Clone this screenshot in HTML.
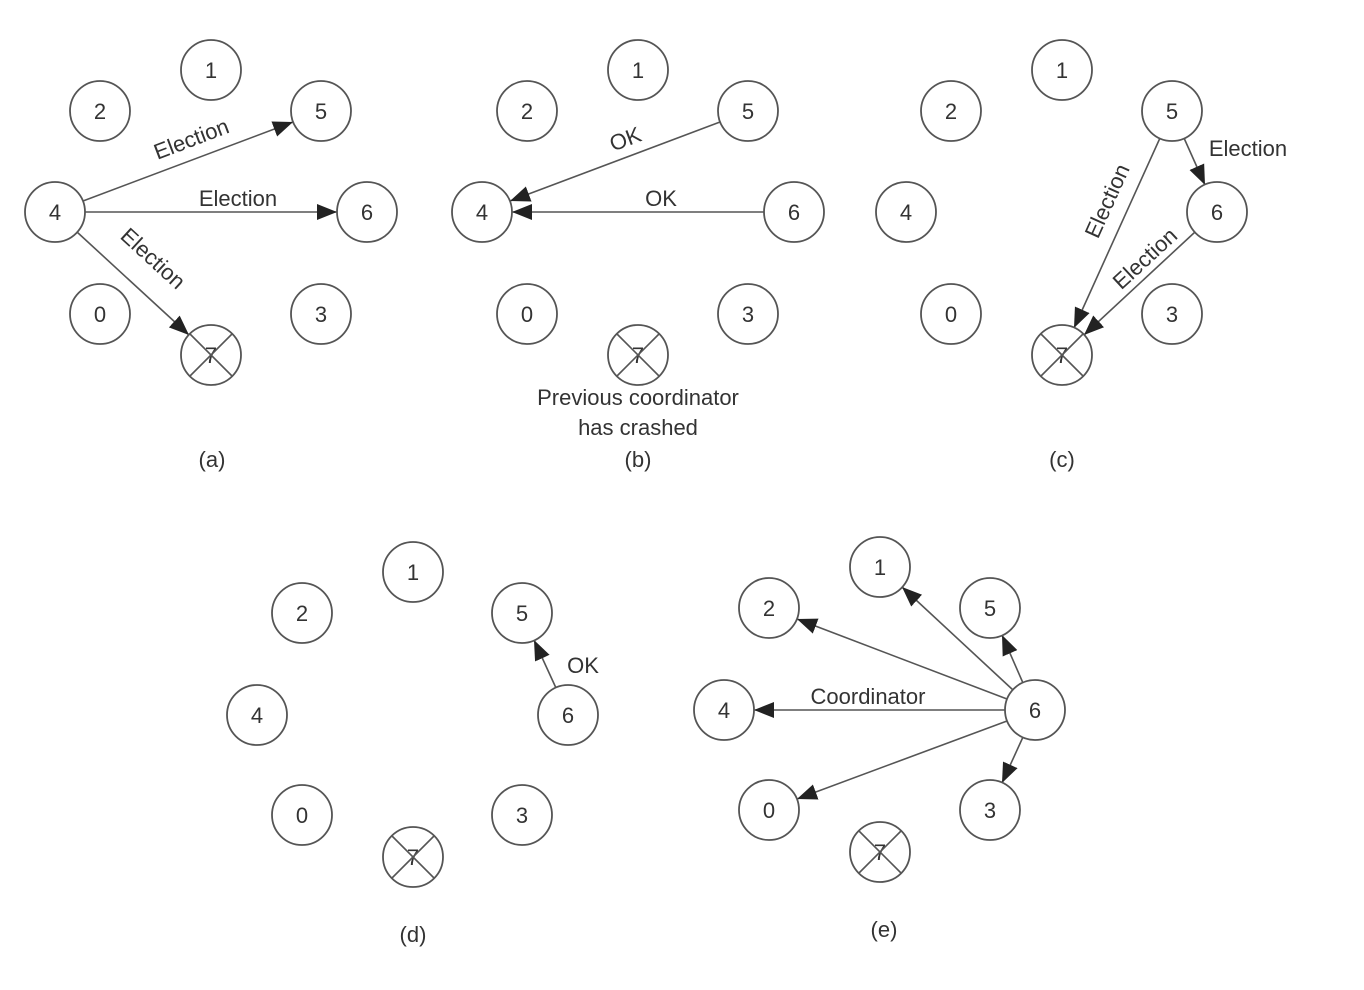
<!DOCTYPE html>
<html><head><meta charset="utf-8"><style>
html,body{margin:0;padding:0;background:#fff;}
svg{display:block;}
text{font-family:"Liberation Sans",sans-serif;fill:#333;font-size:22px;}
</style></head><body>
<svg width="1364" height="990" viewBox="0 0 1364 990" xmlns="http://www.w3.org/2000/svg">
<defs>
<marker id="ah" markerUnits="userSpaceOnUse" markerWidth="22" markerHeight="18" refX="20" refY="8" orient="auto">
<path d="M0,0 L20,8 L0,16 Z" fill="#222"/>
</marker>
<g id="n"><circle r="30" fill="#fff" stroke="#555" stroke-width="1.8"/></g>
</defs>
<g stroke="#555" stroke-width="1.6" fill="none">
<!-- a -->
<line x1="83" y1="201" x2="293" y2="122" marker-end="url(#ah)"/>
<line x1="85" y1="212" x2="337" y2="212" marker-end="url(#ah)"/>
<line x1="77" y1="232" x2="189" y2="335" marker-end="url(#ah)"/>
<!-- b -->
<line x1="720" y1="122" x2="510" y2="201" marker-end="url(#ah)"/>
<line x1="764" y1="212" x2="512" y2="212" marker-end="url(#ah)"/>
<!-- c -->
<line x1="1160" y1="138" x2="1074" y2="328" marker-end="url(#ah)"/>
<line x1="1184" y1="138" x2="1205" y2="185" marker-end="url(#ah)"/>
<line x1="1195" y1="232" x2="1084" y2="335" marker-end="url(#ah)"/>
<!-- d -->
<line x1="556" y1="688" x2="534" y2="640" marker-end="url(#ah)"/>
<!-- e -->
<line x1="1013" y1="690" x2="902" y2="587" marker-end="url(#ah)"/>
<line x1="1023" y1="683" x2="1002" y2="635" marker-end="url(#ah)"/>
<line x1="1007" y1="699" x2="797" y2="619" marker-end="url(#ah)"/>
<line x1="1005" y1="710" x2="754" y2="710" marker-end="url(#ah)"/>
<line x1="1007" y1="721" x2="797" y2="799" marker-end="url(#ah)"/>
<line x1="1023" y1="737" x2="1002" y2="783" marker-end="url(#ah)"/>
</g>

<!-- nodes -->
<g text-anchor="middle">
<!-- a -->
<use href="#n" x="211" y="70"/><text x="211" y="78">1</text>
<use href="#n" x="100" y="111"/><text x="100" y="119">2</text>
<use href="#n" x="321" y="111"/><text x="321" y="119">5</text>
<use href="#n" x="55" y="212"/><text x="55" y="220">4</text>
<use href="#n" x="367" y="212"/><text x="367" y="220">6</text>
<use href="#n" x="100" y="314"/><text x="100" y="322">0</text>
<use href="#n" x="321" y="314"/><text x="321" y="322">3</text>
<use href="#n" x="211" y="355"/><text x="211" y="363">7</text>
<!-- b -->
<use href="#n" x="638" y="70"/><text x="638" y="78">1</text>
<use href="#n" x="527" y="111"/><text x="527" y="119">2</text>
<use href="#n" x="748" y="111"/><text x="748" y="119">5</text>
<use href="#n" x="482" y="212"/><text x="482" y="220">4</text>
<use href="#n" x="794" y="212"/><text x="794" y="220">6</text>
<use href="#n" x="527" y="314"/><text x="527" y="322">0</text>
<use href="#n" x="748" y="314"/><text x="748" y="322">3</text>
<use href="#n" x="638" y="355"/><text x="638" y="363">7</text>
<!-- c -->
<use href="#n" x="1062" y="70"/><text x="1062" y="78">1</text>
<use href="#n" x="951" y="111"/><text x="951" y="119">2</text>
<use href="#n" x="1172" y="111"/><text x="1172" y="119">5</text>
<use href="#n" x="906" y="212"/><text x="906" y="220">4</text>
<use href="#n" x="1217" y="212"/><text x="1217" y="220">6</text>
<use href="#n" x="951" y="314"/><text x="951" y="322">0</text>
<use href="#n" x="1172" y="314"/><text x="1172" y="322">3</text>
<use href="#n" x="1062" y="355"/><text x="1062" y="363">7</text>
<!-- d -->
<use href="#n" x="413" y="572"/><text x="413" y="580">1</text>
<use href="#n" x="302" y="613"/><text x="302" y="621">2</text>
<use href="#n" x="522" y="613"/><text x="522" y="621">5</text>
<use href="#n" x="257" y="715"/><text x="257" y="723">4</text>
<use href="#n" x="568" y="715"/><text x="568" y="723">6</text>
<use href="#n" x="302" y="815"/><text x="302" y="823">0</text>
<use href="#n" x="522" y="815"/><text x="522" y="823">3</text>
<use href="#n" x="413" y="857"/><text x="413" y="865">7</text>
<!-- e -->
<use href="#n" x="880" y="567"/><text x="880" y="575">1</text>
<use href="#n" x="769" y="608"/><text x="769" y="616">2</text>
<use href="#n" x="990" y="608"/><text x="990" y="616">5</text>
<use href="#n" x="724" y="710"/><text x="724" y="718">4</text>
<use href="#n" x="1035" y="710"/><text x="1035" y="718">6</text>
<use href="#n" x="769" y="810"/><text x="769" y="818">0</text>
<use href="#n" x="990" y="810"/><text x="990" y="818">3</text>
<use href="#n" x="880" y="852"/><text x="880" y="860">7</text>
</g>

<!-- crash X marks -->
<g stroke="#555" stroke-width="1.6">
<line x1="190" y1="334" x2="232" y2="376"/><line x1="232" y1="334" x2="190" y2="376"/>
<line x1="617" y1="334" x2="659" y2="376"/><line x1="659" y1="334" x2="617" y2="376"/>
<line x1="1041" y1="334" x2="1083" y2="376"/><line x1="1083" y1="334" x2="1041" y2="376"/>
<line x1="392" y1="836" x2="434" y2="878"/><line x1="434" y1="836" x2="392" y2="878"/>
<line x1="859" y1="831" x2="901" y2="873"/><line x1="901" y1="831" x2="859" y2="873"/>
</g>

<!-- edge labels -->
<g text-anchor="middle">
<text transform="translate(194,146) rotate(-20.8)">Election</text>
<text x="238" y="206">Election</text>
<text transform="translate(148,264) rotate(42.5)">Election</text>
<text transform="translate(628,146) rotate(-20.8)">OK</text>
<text x="661" y="206">OK</text>
<text transform="translate(1114,204) rotate(-65.7)">Election</text>
<text x="1248" y="156">Election</text>
<text transform="translate(1150,264) rotate(-42.7)">Election</text>
<text x="583" y="673">OK</text>
<text x="868" y="704">Coordinator</text>
<text x="638" y="405">Previous coordinator</text>
<text x="638" y="435">has crashed</text>
<text x="212" y="467">(a)</text>
<text x="638" y="467">(b)</text>
<text x="1062" y="467">(c)</text>
<text x="413" y="942">(d)</text>
<text x="884" y="937">(e)</text>
</g>
</svg>
</body></html>
